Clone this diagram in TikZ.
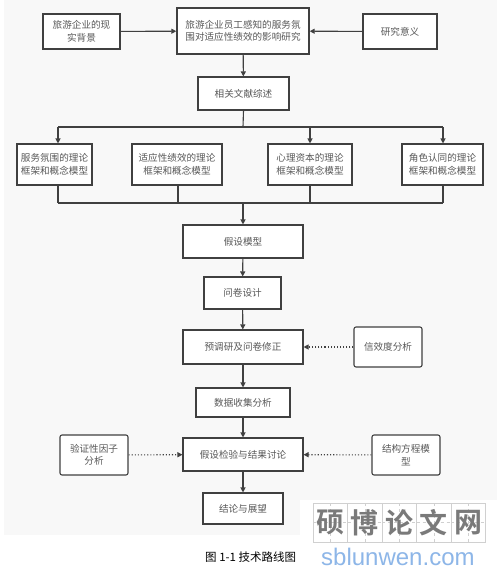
\documentclass[tikz,border=0pt]{standalone}
\usepackage{fontspec}
\newfontfamily\cjk{Noto Sans CJK SC}
\newfontfamily\cjkb{Noto Sans CJK SC Bold}
\setsansfont{Liberation Sans}
\usetikzlibrary{arrows.meta}
\definecolor{bgc}{HTML}{F8F8F8}
\definecolor{linec}{HTML}{404040}
\definecolor{txtc}{HTML}{585858}
\definecolor{wmc}{HTML}{7A7A7A}
\definecolor{wmblue}{HTML}{8DB6E8}
\definecolor{gridc}{HTML}{D0D0D0}
\tikzset{
  box/.style={draw=linec, line width=1.1pt, fill=white, inner sep=1pt, align=center,
    font=\cjk\fontsize{9.6}{12.5}\selectfont, text=txtc},
  rbox/.style={box, rounded corners=2pt},
  arr/.style={draw=linec, line width=1.1pt, -{Triangle[length=5pt,width=5pt]}},
  ln/.style={draw=linec, line width=1.1pt},
  dotarr/.style={draw=linec, line width=1.1pt, dotted, -{Triangle[length=5pt,width=5pt]}},
}
\begin{document}
\begin{tikzpicture}[x=1pt,y=-1pt]
\useasboundingbox (0,0) rectangle (502,575);
\fill[white] (0,0) rectangle (502,575);
\fill[bgc] (4,0) rectangle (497,535);
\fill[white] (300,500) rectangle (497,535);

\node[box, minimum width=77pt, minimum height=35pt] (bg) at (81.5,31.5) {旅游企业的现\\实背景};
\node[box, line width=1.4pt, minimum width=132pt, minimum height=46pt] (main) at (243,31) {旅游企业员工感知的服务氛\\围对适应性绩效的影响研究};
\node[box, minimum width=74pt, minimum height=35pt] (yj) at (400,31.5) {研究意义};
\node[box, minimum width=91pt, minimum height=33pt] (rev) at (243.5,93.5) {相关文献综述};

\node[box, minimum width=75pt, minimum height=41pt] (b1) at (54.5,164.5) {服务氛围的理论\\框架和概念模型};
\node[box, minimum width=90pt, minimum height=41pt] (b2) at (177,164.5) {适应性绩效的理论\\框架和概念模型};
\node[box, minimum width=84pt, minimum height=41pt] (b3) at (310,164.5) {心理资本的理论\\框架和概念模型};
\node[box, minimum width=81pt, minimum height=41pt] (b4) at (442.5,164.5) {角色认同的理论\\框架和概念模型};

\node[box, minimum width=120pt, minimum height=33pt] (hm) at (243,241.5) {假设模型};
\node[box, minimum width=77pt, minimum height=32pt] (wj) at (242.5,293) {问卷设计};
\node[box, minimum width=120pt, minimum height=34pt] (yd) at (243,347) {预调研及问卷修正};
\node[rbox, minimum width=68pt, minimum height=40pt] (xx) at (388,347) {信效度分析};
\node[box, minimum width=94pt, minimum height=29pt] (sj) at (243,402.5) {数据收集分析};
\node[box, minimum width=120pt, minimum height=33pt] (jy) at (243,454.5) {假设检验与结果讨论};
\node[rbox, minimum width=68pt, minimum height=40pt] (yz) at (94,455) {验证性因子\\分析};
\node[rbox, minimum width=68pt, minimum height=40pt] (jg) at (406,455) {结构方程模\\型};
\node[box, minimum width=80pt, minimum height=31pt] (jl) at (243,508.5) {结论与展望};

\draw[arr] (bg) -- (main);
\draw[arr] (yj) -- (main);
\draw[arr] (main) -- (rev);

\coordinate (t0) at (243,127);
\coordinate (t1) at (58,127);
\coordinate (t3) at (310,127);
\coordinate (t4) at (443,127);
\draw[ln] (rev.south) -- (t0);
\draw[ln] (t1) -- (t4);
\draw[arr] (t1) -- (t1 |- b1.north);
\draw[arr] (t3) -- (t3 |- b3.north);
\draw[arr] (t4) -- (t4 |- b4.north);

\coordinate (u0) at (243,203);
\coordinate (u1) at (58,203);
\coordinate (u2) at (178,203);
\coordinate (u3) at (310,203);
\coordinate (u4) at (443,203);
\draw[ln] (u1 |- b1.south) -- (u1);
\draw[ln] (u2 |- b2.south) -- (u2);
\draw[ln] (u3 |- b3.south) -- (u3);
\draw[ln] (u4 |- b4.south) -- (u4);
\draw[ln] (u1) -- (u4);
\draw[arr] (u0) -- (hm.north);

\draw[arr] (hm) -- (wj);
\draw[arr] (wj) -- (yd);
\draw[arr] (yd) -- (sj);
\draw[arr] (sj) -- (jy);
\draw[arr] (jy) -- (jl);
\draw[dotarr] (xx) -- (yd);
\draw[dotarr] (yz) -- (jy);
\draw[dotarr] (jg) -- (jy);

% watermark
\foreach \i/\c in {0/硕,1/博,2/论,3/文,4/网}{
  \pgfmathsetmacro{\xl}{313+\i*34.5}
  \draw[gridc, line width=0.6pt] (\xl,503) rectangle ++(34.5,39);
  \draw[gridc, line width=0.4pt, dashed] (\xl+17.25,503) -- ++(0,39) (\xl,522.5) -- ++(34.5,0);
  \node[font=\cjkb\fontsize{28}{28}\selectfont, text=wmc, inner sep=0pt] (w\i) at (\xl+17.25,522.5) {\c};
}
\node[font=\sffamily\fontsize{24}{24}\selectfont, text=wmblue, inner sep=0pt, anchor=west] (wurl) at (321,557) {sblunwen.com};
\node[font=\cjk\fontsize{11.5}{14}\selectfont, text=black, inner sep=0pt, anchor=west] (cap) at (205,557) {图 1-1 技术路线图};
\end{tikzpicture}
\end{document}
